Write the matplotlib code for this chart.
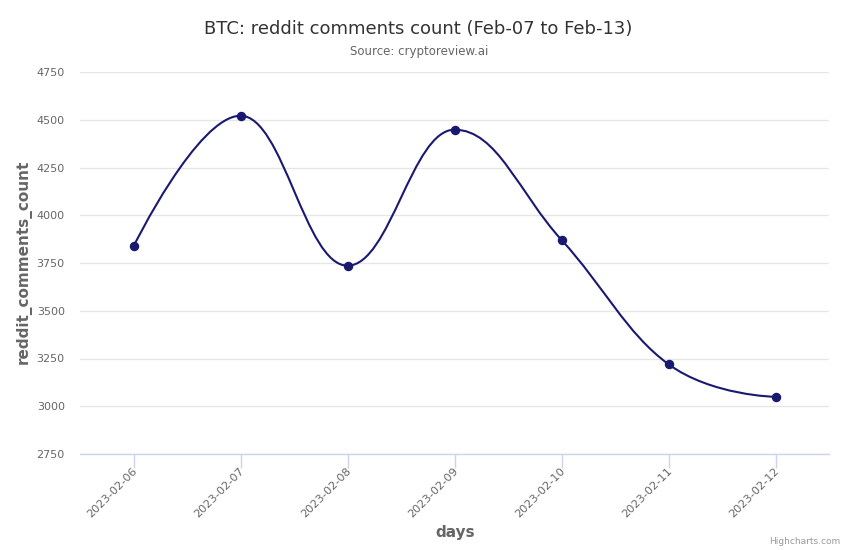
import matplotlib
matplotlib.use("Agg")
import matplotlib.pyplot as plt
import matplotlib.transforms as mtransforms
from matplotlib.path import Path
from matplotlib.patches import PathPatch
import numpy as np

days = ["2023-02-06", "2023-02-07", "2023-02-08", "2023-02-09",
        "2023-02-10", "2023-02-11", "2023-02-12"]
comments = [3837, 4521, 3736, 4448, 3871, 3220, 3049]
y_ticks = [2750, 3000, 3250, 3500, 3750, 4000, 4250, 4500, 4750]

LINE = "#191970"


def highcharts_spline(xs, ys, smoothing=1.5):
    n = len(xs)
    denom = smoothing + 1
    lc = [(xs[i], ys[i]) for i in range(n)]
    rc = [(xs[i], ys[i]) for i in range(n)]
    for i in range(1, n - 1):
        px, py = xs[i], ys[i]
        lx, ly = xs[i - 1], ys[i - 1]
        nx, ny = xs[i + 1], ys[i + 1]
        lcx = (smoothing * px + lx) / denom
        lcy = (smoothing * py + ly) / denom
        rcx = (smoothing * px + nx) / denom
        rcy = (smoothing * py + ny) / denom
        if rcx != lcx:
            corr = ((rcy - lcy) * (rcx - px)) / (rcx - lcx) + py - rcy
            lcy += corr
            rcy += corr
        if lcy > ly and lcy > py:
            lcy = max(ly, py)
            rcy = 2 * py - lcy
        elif lcy < ly and lcy < py:
            lcy = min(ly, py)
            rcy = 2 * py - lcy
        if rcy > ny and rcy > py:
            rcy = max(ny, py)
            lcy = 2 * py - rcy
        elif rcy < ny and rcy < py:
            rcy = min(ny, py)
            lcy = 2 * py - rcy
        lc[i] = (lcx, lcy)
        rc[i] = (rcx, rcy)
    verts = [(xs[0], ys[0])]
    codes = [Path.MOVETO]
    for i in range(1, n):
        verts += [rc[i - 1], lc[i], (xs[i], ys[i])]
        codes += [Path.CURVE4] * 3
    return Path(verts, codes)


fig = plt.figure(figsize=(8.5, 5.5), dpi=100)
ax = fig.add_axes([80 / 850, 1 - 454 / 550, 749 / 850, 382 / 550])

x = np.arange(len(days))
ax.set_xlim(-0.5, len(days) - 0.5)
ax.set_ylim(y_ticks[0], y_ticks[-1])

path = highcharts_spline(list(x.astype(float)), [float(v) for v in comments])
ax.add_patch(PathPatch(path, facecolor="none", edgecolor=LINE, lw=1.5,
                       zorder=3, capstyle="round", joinstyle="round"))
ax.plot(x, comments, "o", color=LINE, ms=5.8, zorder=4)

ax.set_yticks(y_ticks)
ax.set_yticklabels([str(t) for t in y_ticks])
ax.grid(axis="y", color="#e6e6e6", lw=1)
ax.set_axisbelow(True)
ax.tick_params(axis="y", length=0, pad=11, labelsize=8, labelcolor="#666666")

ax.set_xticks(x)
ax.set_xticklabels(days, rotation=45, ha="right", rotation_mode="anchor")
ax.tick_params(axis="x", length=10, width=1, color="#ccd6eb", pad=-1,
               labelsize=8.2, labelcolor="#666666")
offset = mtransforms.ScaledTranslation(-1.5 / 100, 0.5 / 100, fig.dpi_scale_trans)
for lbl in ax.get_xticklabels():
    lbl.set_transform(lbl.get_transform() + offset)

for s in ["top", "right", "left"]:
    ax.spines[s].set_visible(False)
ax.spines["bottom"].set_color("#ccd6eb")
ax.spines["bottom"].set_linewidth(1)

fig.text(418 / 850, 1 - 28.5 / 550, "BTC: reddit comments count (Feb-07 to Feb-13)",
         ha="center", va="center", fontsize=13, color="#333333")
fig.text(419 / 850, 1 - 52 / 550, "Source: cryptoreview.ai",
         ha="center", va="center", fontsize=8.5, color="#666666")
fig.text(455 / 850, 1 - 532 / 550, "days", ha="center", va="center",
         fontsize=11, fontweight="bold", color="#666666")
fig.text(24 / 850, 1 - 262 / 550, "reddit_comments_count", ha="center",
         va="center", rotation=90, fontsize=11, fontweight="bold",
         color="#666666")
fig.text(840 / 850, 1 - 542 / 550, "Highcharts.com", ha="right",
         va="center", fontsize=6.5, color="#999999")

fig.savefig("out.png", dpi=100, facecolor="white")
